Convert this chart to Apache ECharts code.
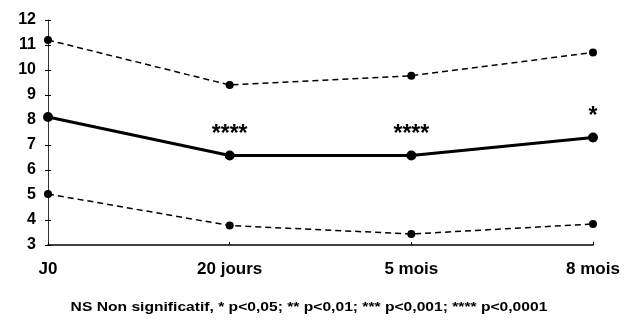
<!DOCTYPE html>
<html><head><meta charset="utf-8">
<script src="https://cdn.jsdelivr.net/npm/echarts@6/dist/echarts.min.js"></script>
<style>html,body{margin:0;padding:0;background:#fff}#c{width:634px;height:325px}</style>
</head><body><div id="c"></div>
<script>
var categories = ['J0', '20 jours', '5 mois', '8 mois'];
var upperValues = [11.2, 9.4, 9.77, 10.7];
var meanValues = [8.12, 6.58, 6.58, 7.3];
var lowerValues = [5.04, 3.78, 3.44, 3.84];
var significance = ['', '****', '****', '*'];
var yTicks = [3, 4, 5, 6, 7, 8, 9, 10, 11, 12];
var footnote = 'NS Non significatif, * p<0,05; ** p<0,01; *** p<0,001; **** p<0,0001';

var font = 'Liberation Sans, Arial, sans-serif';
var chart = echarts.init(document.getElementById('c'));
chart.setOption({
  animation: false,
  backgroundColor: '#fff',
  grid: {left: 48, right: 41, top: 20, bottom: 80, containLabel: false},
  graphic: [{
    type: 'text', x: 309, y: 308, scaleX: 1.25,
    style: {text: footnote, x: 0, y: 0, align: 'center', verticalAlign: 'middle',
            font: 'bold 12.5px ' + font, fill: '#000'}
  }],
  xAxis: {
    type: 'category', data: categories, boundaryGap: false,
    axisLine: {lineStyle: {color: '#000', width: 1.5}},
    axisTick: {show: true, alignWithLabel: true, length: 3, inside: true, lineStyle: {color: '#000'}},
    axisLabel: {color: '#000', fontFamily: font, fontWeight: 'bold', fontSize: 17, margin: 16}
  },
  yAxis: [{
    type: 'value', min: yTicks[0], max: yTicks[yTicks.length - 1], interval: 1,
    splitLine: {show: false},
    axisLine: {show: true, lineStyle: {color: '#333', width: 1}},
    axisTick: {show: true, length: 3, lineStyle: {color: '#000'}},
    axisLabel: {color: '#000', fontFamily: font, fontWeight: 'bold', fontSize: 16, margin: 12}
  }, {
    type: 'value', min: yTicks[0], max: yTicks[yTicks.length - 1], interval: 1, position: 'left',
    splitLine: {show: false},
    axisLine: {show: false},
    axisTick: {show: true, inside: true, length: 3, lineStyle: {color: '#000'}},
    axisLabel: {show: false}
  }],
  series: [{
    type: 'line', data: upperValues, symbol: 'circle', symbolSize: 8,
    itemStyle: {color: '#000'},
    lineStyle: {color: '#000', width: 1.5, type: [6, 4]}
  }, {
    type: 'line', data: lowerValues, symbol: 'circle', symbolSize: 8,
    itemStyle: {color: '#000'},
    lineStyle: {color: '#000', width: 1.5, type: [6, 4]}
  }, {
    type: 'line', data: meanValues, symbol: 'circle', symbolSize: 10,
    itemStyle: {color: '#000'},
    lineStyle: {color: '#000', width: 3},
    label: {
      show: true, position: 'top', distance: 4,
      formatter: function (p) { return significance[p.dataIndex]; },
      color: '#000', fontFamily: font, fontWeight: 'bold', fontSize: 23
    }
  }]
});
</script></body></html>
